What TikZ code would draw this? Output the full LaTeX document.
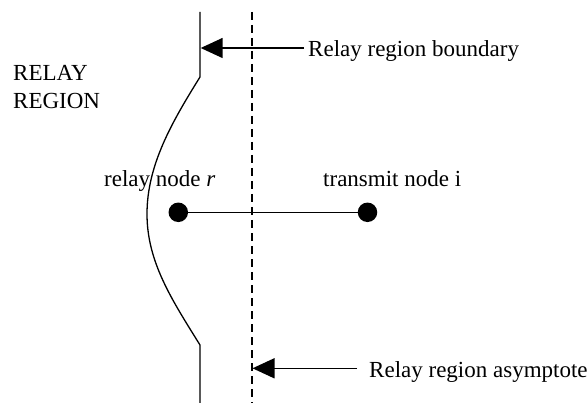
\documentclass[tikz,border=0pt]{standalone}
\usepackage{fontspec}
\setmainfont{Liberation Serif}
\usetikzlibrary{arrows.meta}
\begin{document}
\begin{tikzpicture}[x=1pt,y=-1pt,
  lbl/.style={inner sep=0pt,font=\fontsize{23}{27}\selectfont},
  dot/.style={circle,fill=black,inner sep=0pt,minimum size=19.5pt},
  bnd/.style={line width=1.3pt},
  asym/.style={line width=1.8pt,dash pattern=on 8pt off 5pt},
  arr/.style={line width=1.5pt,-{Triangle[length=22pt,width=20pt]}},
  link/.style={line width=1.3pt}]
\useasboundingbox (0,0) rectangle (588,403);
% boundary
\coordinate (b0) at (200,12);
\coordinate (b1) at (200,77);
\coordinate (bm) at (147,214);
\coordinate (b2) at (200,345);
\coordinate (b3) at (200,403);
\draw[bnd] (b0) -- (b1) .. controls (172,122) and (147,165) .. (bm)
  .. controls (147,262) and (172,300) .. (b2) -- (b3);
% asymptote
\coordinate (a0) at (252,12);
\coordinate (a1) at (252,403);
\draw[asym] (a0) -- (a1);
% nodes
\node[dot] (r) at (178.3,212.3) {};
\node[dot] (t) at (367.5,212.3) {};
\draw[link] (r) -- (t);
% labels
\node[lbl,anchor=base west] (rl) at (13,81) {RELAY};
\node[lbl,anchor=base west] (rl2) at (13,109) {REGION};
\node[lbl,anchor=base west] (rn) at (104,187) {relay node \textit{r}};
\node[lbl,anchor=base west] (tn) at (323,187) {transmit node i};
\node[lbl,anchor=base west] (bl) at (308,56.5) {Relay region boundary};
\node[lbl,anchor=base west] (al) at (369,377.5) {Relay region asymptote};
% arrows
\coordinate (bt) at (304,48);
\coordinate (bh) at (200.7,48);
\draw[arr] (bt) -- (bh);
\coordinate (at) at (357,368.3);
\coordinate (ah) at (252.5,368.3);
\draw[arr] (at) -- (ah);
\end{tikzpicture}
\end{document}
